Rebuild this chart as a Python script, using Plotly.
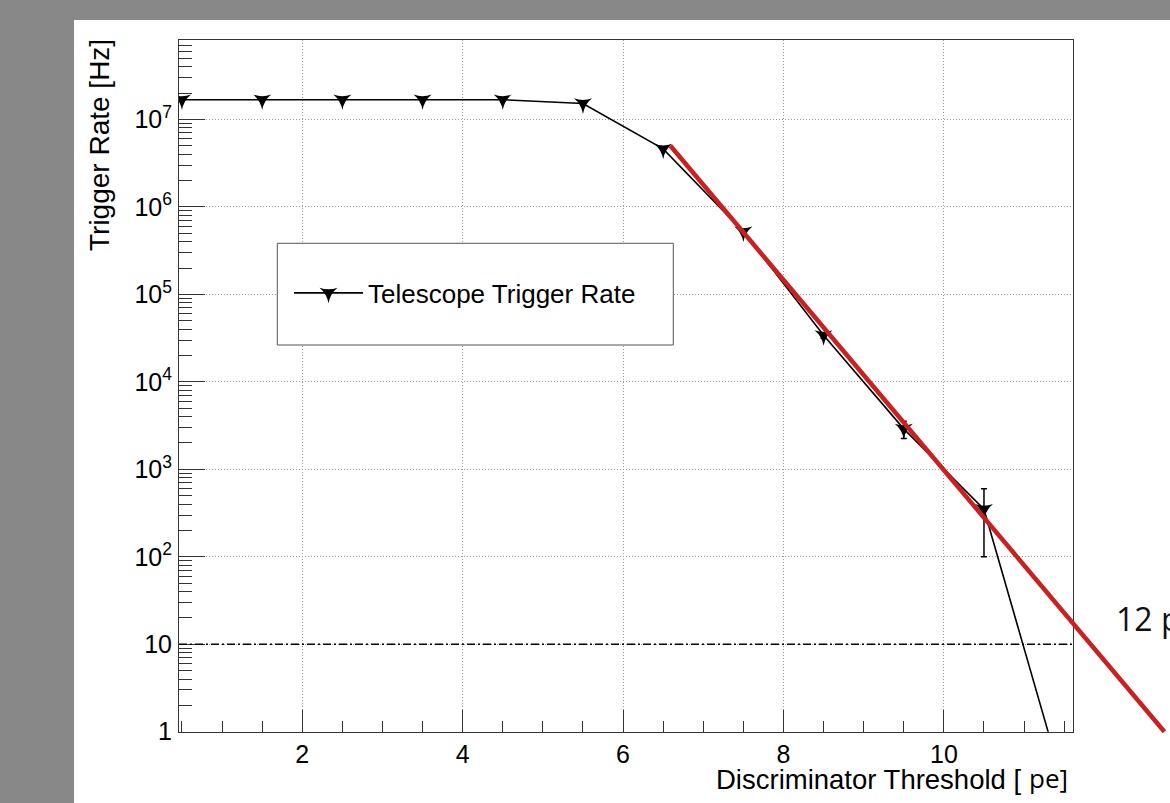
import plotly.graph_objects as go

# ---------------- data ----------------
threshold_pe = [0.5, 1.5, 2.5, 3.5, 4.5, 5.5, 6.5, 7.5, 8.5, 9.5, 10.5, 11.5]
trigger_rate_hz = [1.68e7, 1.68e7, 1.68e7, 1.68e7, 1.68e7, 1.52e7, 4.6e6, 5.2e5, 3.4e4, 2.9e3, 3.5e2, 0.23]
rate_error_hz = [0, 0, 0, 0, 0, 0, 1.0e5, 1.5e4, 2.5e3, 650, 250, 0]

fit_x = [6.59, 12.75]
fit_y = [5.0e6, 1.0]

rate_limit_hz = 10

x_tickvals = [2, 4, 6, 8, 10]
y_tickvals = [1, 10, 100, 1e3, 1e4, 1e5, 1e6, 1e7]
y_ticktext = ["1", "10", "10<sup>2</sup>", "10<sup>3</sup>", "10<sup>4</sup>",
              "10<sup>5</sup>", "10<sup>6</sup>", "10<sup>7</sup>"]
y_minor = [m * 10 ** e for e in range(0, 8) for m in range(2, 10)]

legend_label = "Telescope Trigger Rate"
x_title = "Discriminator Threshold ["
x_title_overlay = "pe]"
y_title = "Trigger Rate [Hz]"
side_note = "12 p.e."

# ---------------- layout geometry ----------------
W, H = 1170, 803
L, T, R, B = 179, 40, 0, 40
PW, PH = W - L - R, H - T - B
PLOT_RIGHT_PX, PLOT_BOTTOM_PX = 1073, 731.7


def px(x):
    return (x - L) / PW


def py(y):
    return (T + PH - y) / PH


x_dom = [0, px(PLOT_RIGHT_PX)]
y_dom = [py(PLOT_BOTTOM_PX), 1]
x_range = [0.463, 11.61]
y_range = [0, 7.908]

# overlay axes spanning the whole paper with identical scale
x2_range = [x_range[0], x_range[0] + (x_range[1] - x_range[0]) / (x_dom[1] - x_dom[0])]
y2_range = [y_range[1] - (y_range[1] - y_range[0]) / (y_dom[1] - y_dom[0]), y_range[1]]

FONT = "Liberation Sans, Arial, Helvetica, sans-serif"
AXCOL = "#333333"
GRIDCOL = "#9a9a9a"

fig = go.Figure()

fig.add_trace(go.Scatter(
    x=threshold_pe, y=trigger_rate_hz, name=legend_label,
    mode="lines+markers",
    line=dict(color="black", width=1.6),
    marker=dict(symbol="star-triangle-down", size=13, color="black"),
    error_y=dict(type="data", array=rate_error_hz, color="black", thickness=1.5, width=3),
    xaxis="x", yaxis="y", showlegend=True,
))

fig.add_trace(go.Scatter(
    x=fit_x, y=fit_y, mode="lines",
    line=dict(color="#cc1f1f", width=4.5),
    xaxis="x2", yaxis="y2", showlegend=False, hoverinfo="skip",
))

fig.update_layout(
    width=W, height=H,
    margin=dict(l=L, r=R, t=T, b=B, autoexpand=False),
    paper_bgcolor="#888888",
    plot_bgcolor="rgba(0,0,0,0)",
    font=dict(family=FONT, color="black", size=24),
    xaxis=dict(
        domain=x_dom, range=x_range, anchor="y",
        tickmode="array", tickvals=x_tickvals,
        ticks="inside", ticklen=22, tickwidth=1, tickcolor=AXCOL,
        tickfont=dict(family=FONT, size=25, color="black"),
        showline=True, linecolor=AXCOL, linewidth=1, mirror=True,
        showgrid=True, gridcolor=GRIDCOL, griddash="1px,2px", gridwidth=1,
        zeroline=False,
        minor=dict(tickmode="linear", tick0=0, dtick=0.5, ticks="inside",
                   ticklen=11, tickwidth=1, tickcolor=AXCOL, showgrid=False),
    ),
    yaxis=dict(
        domain=y_dom, range=y_range, type="log", anchor="x",
        tickmode="array", tickvals=y_tickvals, ticktext=y_ticktext,
        ticks="inside", ticklen=26, tickwidth=1, tickcolor=AXCOL,
        tickfont=dict(family=FONT, size=25, color="black"),
        ticklabelstandoff=1,
        showline=True, linecolor=AXCOL, linewidth=1, mirror=True,
        showgrid=True, gridcolor=GRIDCOL, griddash="1px,2px", gridwidth=1,
        zeroline=False,
        minor=dict(tickmode="array", tickvals=y_minor, ticks="inside",
                   ticklen=13, tickwidth=1, tickcolor=AXCOL, showgrid=False),
    ),
    xaxis2=dict(domain=[0, 1], range=x2_range, anchor="y2", visible=False,
                showgrid=False, zeroline=False, fixedrange=True),
    yaxis2=dict(domain=[0, 1], range=y2_range, type="log", anchor="x2", visible=False,
                showgrid=False, zeroline=False, fixedrange=True),
    showlegend=True,
    legend=dict(
        x=px(289), y=py(293), xanchor="left", yanchor="middle",
        bgcolor="rgba(0,0,0,0)", borderwidth=0,
        font=dict(family=FONT, size=26, color="black"),
        itemwidth=69,
    ),
)

# white panel behind the chart
fig.add_shape(type="rect", xref="paper", yref="paper",
              x0=px(74), x1=px(W + 10), y0=py(H + 10), y1=py(20),
              fillcolor="white", line=dict(width=0), layer="below")

# threshold reference line
fig.add_shape(type="line", xref="x domain", yref="y", x0=0, x1=1,
              y0=rate_limit_hz, y1=rate_limit_hz,
              line=dict(color="black", width=1.5, dash="8px,3px,2px,3px"), layer="above")

# legend frame
fig.add_shape(type="rect", xref="paper", yref="paper",
              x0=px(277.3), x1=px(673.3), y0=py(345), y1=py(243.3),
              fillcolor="white", line=dict(color="#555555", width=1), layer="above")

# axis titles
fig.add_annotation(text=x_title, xref="paper", yref="paper",
                   x=px(1024), y=py(780), xanchor="right", yanchor="middle",
                   showarrow=False, font=dict(family=FONT, size=27.5, color="black"))
fig.add_annotation(text=x_title_overlay, xref="paper", yref="paper",
                   x=px(1027), y=py(778), xanchor="left", yanchor="middle",
                   showarrow=False, font=dict(family="Open Sans", size=26, color="black"))
fig.add_annotation(text=y_title, xref="paper", yref="paper",
                   x=px(99), y=py(37), xanchor="center", yanchor="top", textangle=-90,
                   showarrow=False, font=dict(family=FONT, size=28, color="black"))
fig.add_annotation(text=side_note, xref="paper", yref="paper",
                   x=px(1114), y=py(618), xanchor="left", yanchor="middle",
                   showarrow=False, font=dict(family="Open Sans", size=32, color="#111111"))

fig.write_html(
    "out.html",
    config={"displayModeBar": False},
    post_script="document.body.style.margin='0';document.body.style.overflow='hidden';",
)
